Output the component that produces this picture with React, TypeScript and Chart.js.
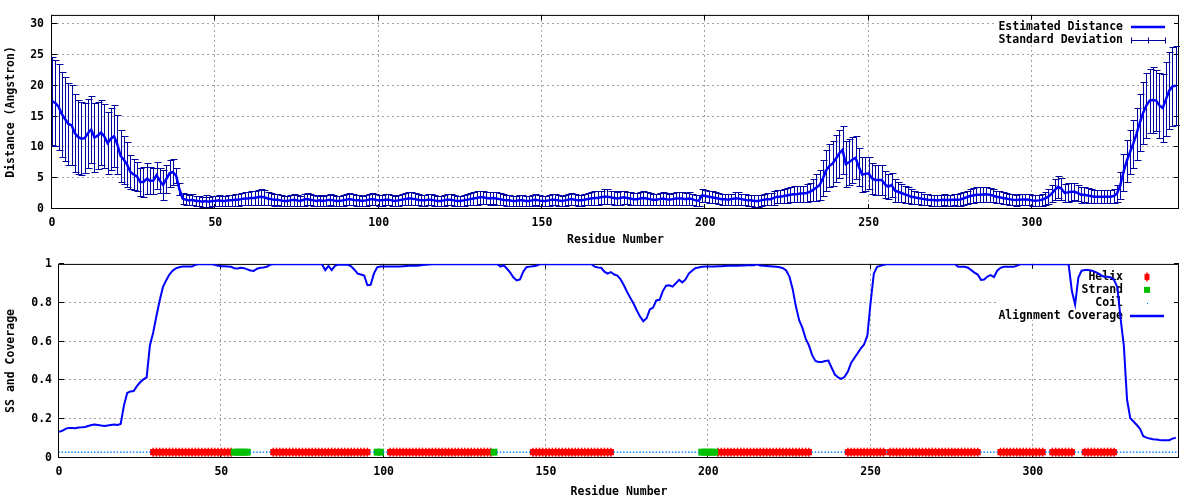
import React, { useEffect, useRef } from "react";
import { Chart, registerables } from "chart.js";

Chart.register(...registerables);

// ---------------- data ----------------
const X_TICKS = [0, 50, 100, 150, 200, 250, 300];
const DIST_TICKS = [0, 5, 10, 15, 20, 25, 30];
const COV_TICKS = [0, 0.2, 0.4, 0.6, 0.8, 1];
const X_MAX = 345;
const DIST_MAX = 31.5;
const SS_LEVEL = 0.03;

const X_TITLE = "Residue Number";
const TOP_Y_TITLE = "Distance (Angstron)";
const BOTTOM_Y_TITLE = "SS and Coverage";
const TOP_LEGEND = ["Estimated Distance", "Standard Deviation"];
const BOTTOM_LEGEND = ["Helix", "Strand", "Coil", "Alignment Coverage"];

// estimated distance per residue (index = residue number 0..344)
const DISTANCE = [
  17.5, 17.2, 16.6, 15.4, 14.6, 13.8, 13.6, 12.3, 11.7, 11.4,
  11.5, 12.3, 12.9, 11.6, 11.9, 12.4, 11.8, 10.7, 11.4, 11.8,
  10.5, 8.6, 8.0, 7.2, 6.0, 5.6, 5.3, 4.4, 4.4, 4.9,
  4.6, 4.6, 5.5, 4.6, 3.9, 4.9, 5.8, 6.0, 5.4, 3.2,
  1.7, 1.5, 1.4, 1.5, 1.3, 1.3, 1.2, 1.3, 1.2, 1.3,
  1.3, 1.4, 1.3, 1.3, 1.4, 1.4, 1.5, 1.5, 1.6, 1.7,
  1.7, 1.8, 1.8, 1.9, 2.0, 1.9, 1.7, 1.6, 1.5, 1.5,
  1.4, 1.3, 1.3, 1.4, 1.5, 1.4, 1.3, 1.5, 1.6, 1.5,
  1.4, 1.3, 1.4, 1.3, 1.4, 1.5, 1.4, 1.3, 1.3, 1.4,
  1.5, 1.6, 1.5, 1.4, 1.4, 1.3, 1.4, 1.5, 1.6, 1.5,
  1.4, 1.4, 1.5, 1.5, 1.4, 1.3, 1.4, 1.5, 1.6, 1.7,
  1.7, 1.6, 1.5, 1.4, 1.4, 1.5, 1.5, 1.4, 1.3, 1.3,
  1.4, 1.5, 1.5, 1.4, 1.3, 1.3, 1.4, 1.5, 1.6, 1.7,
  1.8, 1.9, 1.9, 1.8, 1.7, 1.8, 1.7, 1.6, 1.5, 1.4,
  1.4, 1.3, 1.3, 1.4, 1.4, 1.3, 1.3, 1.4, 1.5, 1.4,
  1.3, 1.3, 1.4, 1.5, 1.5, 1.4, 1.3, 1.4, 1.5, 1.6,
  1.5, 1.4, 1.4, 1.5, 1.6, 1.7, 1.8, 1.8, 1.9, 2.0,
  2.0, 1.9, 1.8, 1.7, 1.8, 1.9, 1.8, 1.7, 1.6, 1.6,
  1.7, 1.8, 1.7, 1.6, 1.5, 1.5, 1.6, 1.7, 1.6, 1.5,
  1.6, 1.7, 1.7, 1.7, 1.6, 1.7, 1.6, 1.4, 1.35, 2.2,
  2.1, 2.0, 1.9, 1.8, 1.7, 1.6, 1.6, 1.5, 1.6, 1.7,
  1.7, 1.6, 1.5, 1.4, 1.4, 1.3, 1.3, 1.4, 1.5, 1.6,
  1.6, 1.8, 2.0, 2.0, 2.1, 2.2, 2.3, 2.4, 2.4, 2.5,
  2.5, 2.6, 2.8, 3.1, 3.5, 3.9, 5.0, 6.3, 7.0, 7.4,
  8.2, 9.0, 9.6, 7.3, 7.6, 8.0, 8.3, 6.8, 5.6, 5.7,
  5.8, 5.0, 4.7, 4.7, 4.7, 4.0, 3.6, 3.9, 3.0, 2.8,
  2.6, 2.4, 2.2, 2.0, 1.9, 1.8, 1.7, 1.6, 1.5, 1.45,
  1.45, 1.4, 1.45, 1.5, 1.45, 1.45, 1.5, 1.5, 1.55, 1.7,
  1.9, 2.1, 2.2, 2.3, 2.3, 2.35, 2.4, 2.3, 2.2, 2.0,
  1.9, 1.8, 1.7, 1.6, 1.5, 1.45, 1.5, 1.55, 1.55, 1.5,
  1.4, 1.35, 1.4, 1.5, 1.7, 2.0, 2.5, 3.1, 3.6, 3.3,
  2.6, 2.7, 2.8, 2.8, 2.6, 2.3, 2.3, 2.2, 2.1, 2.0,
  2.0, 2.0, 2.0, 2.0, 2.0, 2.1, 2.5, 3.8, 6.0, 7.8,
  9.2, 10.6, 12.2, 14.0, 15.6, 16.8, 17.6, 17.7, 17.6, 16.8,
  16.4, 17.8, 19.2, 19.9, 20.0,
];

// standard deviation per residue
const STD_DEV = [
  7.1, 7.0, 7.0, 6.9, 6.8, 6.6, 6.5, 6.3, 6.0, 5.9,
  5.7, 5.6, 5.5, 5.6, 5.4, 5.3, 5.2, 5.0, 5.0, 5.0,
  4.8, 4.2, 3.9, 3.6, 2.8, 2.5, 2.4, 2.3, 2.4, 2.5,
  2.2, 2.1, 2.2, 2.0, 2.4, 2.3, 2.2, 2.1, 1.2, 1.0,
  0.9, 0.9, 0.8, 0.9, 0.8, 0.8, 0.8, 0.9, 0.8, 0.8,
  0.8, 0.9, 0.8, 0.8, 0.9, 0.9, 1.0, 1.0, 1.0, 1.1,
  1.1, 1.1, 1.2, 1.2, 1.3, 1.2, 1.1, 1.0, 1.0, 0.9,
  0.9, 0.8, 0.8, 0.9, 1.0, 0.9, 0.8, 1.0, 1.0, 0.9,
  0.9, 0.8, 0.9, 0.8, 0.9, 0.9, 0.9, 0.8, 0.8, 0.9,
  0.9, 1.0, 0.9, 0.9, 0.9, 0.8, 0.9, 0.9, 1.0, 0.9,
  0.9, 0.9, 0.9, 0.9, 0.9, 0.8, 0.9, 0.9, 1.0, 1.0,
  1.0, 1.0, 0.9, 0.9, 0.9, 0.9, 0.9, 0.9, 0.8, 0.8,
  0.9, 0.9, 0.9, 0.9, 0.8, 0.8, 0.9, 0.9, 1.0, 1.0,
  1.1, 1.1, 1.1, 1.0, 1.0, 1.0, 1.0, 1.0, 0.9, 0.9,
  0.9, 0.8, 0.8, 0.9, 0.9, 0.8, 0.8, 0.9, 0.9, 0.9,
  0.8, 0.8, 0.9, 0.9, 0.9, 0.9, 0.8, 0.9, 0.9, 1.0,
  0.9, 0.9, 0.9, 0.9, 1.0, 1.0, 1.1, 1.1, 1.1, 1.2,
  1.2, 1.1, 1.1, 1.0, 1.1, 1.1, 1.0, 1.0, 1.0, 1.0,
  1.0, 1.1, 1.0, 1.0, 0.9, 0.9, 1.0, 1.0, 1.0, 0.9,
  1.0, 1.0, 1.0, 1.0, 1.0, 1.0, 0.9, 0.9, 0.9, 1.0,
  1.0, 1.0, 1.0, 0.9, 0.9, 0.9, 0.9, 0.9, 0.9, 1.0,
  1.0, 0.9, 0.9, 0.9, 0.9, 0.9, 0.9, 0.9, 0.9, 1.0,
  1.0, 1.1, 1.1, 1.1, 1.2, 1.2, 1.2, 1.3, 1.3, 1.3,
  1.3, 1.4, 1.5, 1.8, 2.2, 2.5, 2.9, 3.3, 3.5, 3.6,
  3.8, 3.9, 3.9, 3.8, 3.7, 3.7, 3.5, 3.1, 2.9, 2.8,
  2.6, 2.5, 2.5, 2.5, 2.4, 2.2, 2.0, 2.0, 1.8, 1.6,
  1.5, 1.4, 1.3, 1.2, 1.1, 1.0, 1.0, 0.9, 0.9, 0.9,
  0.9, 0.9, 0.9, 0.9, 0.9, 0.9, 0.9, 1.0, 1.0, 1.1,
  1.1, 1.2, 1.2, 1.2, 1.2, 1.2, 1.2, 1.1, 1.1, 1.0,
  1.0, 1.0, 0.9, 0.9, 0.9, 0.9, 0.9, 0.9, 0.9, 0.9,
  0.9, 0.9, 0.9, 1.0, 1.0, 1.2, 1.4, 1.7, 1.8, 1.8,
  1.5, 1.5, 1.5, 1.4, 1.3, 1.3, 1.2, 1.2, 1.2, 1.1,
  1.1, 1.1, 1.1, 1.1, 1.1, 1.2, 1.4, 2.2, 3.0, 3.4,
  3.6, 3.9, 4.2, 4.6, 5.0, 5.3, 5.2, 5.3, 5.0, 5.2,
  5.5, 6.0, 6.2, 6.4, 6.4,
];

// alignment coverage per residue
const COVERAGE = [
  0.135, 0.14, 0.15, 0.155, 0.155, 0.153, 0.157, 0.158, 0.16, 0.165,
  0.17, 0.172, 0.17, 0.167, 0.165, 0.168, 0.17, 0.172, 0.17, 0.175,
  0.27, 0.335, 0.343, 0.345, 0.37, 0.39, 0.405, 0.415, 0.58, 0.645,
  0.73, 0.81, 0.88, 0.915, 0.945, 0.965, 0.977, 0.983, 0.986, 0.986,
  0.986, 0.986, 0.995, 0.998, 0.998, 0.998, 0.998, 0.998, 0.995, 0.99,
  0.988, 0.988, 0.987, 0.985, 0.978, 0.976, 0.98, 0.978, 0.972, 0.966,
  0.964, 0.975, 0.98, 0.982, 0.985, 0.995, 0.998, 0.998, 0.998, 0.998,
  0.998, 0.998, 0.998, 0.998, 0.998, 0.998, 0.998, 0.998, 0.998, 0.998,
  0.998, 0.998, 0.968, 0.99, 0.968, 0.99, 0.996, 0.996, 0.996, 0.995,
  0.988, 0.97, 0.95, 0.945, 0.94, 0.89, 0.892, 0.95, 0.982, 0.986,
  0.987, 0.987, 0.987, 0.987, 0.987, 0.987, 0.988, 0.989, 0.99, 0.99,
  0.99, 0.992, 0.994, 0.996, 0.997, 0.998, 0.998, 0.998, 0.998, 0.998,
  0.998, 0.998, 0.998, 0.998, 0.998, 0.998, 0.998, 0.998, 0.998, 0.998,
  0.998, 0.998, 0.998, 0.998, 0.998, 0.998, 0.986, 0.993, 0.975, 0.955,
  0.93, 0.915, 0.92, 0.96, 0.983, 0.986, 0.988, 0.99, 0.998, 0.998,
  0.998, 0.998, 0.998, 0.998, 0.998, 0.998, 0.998, 0.998, 0.998, 0.998,
  0.998, 0.998, 0.998, 0.998, 0.998, 0.986, 0.982, 0.98, 0.96, 0.95,
  0.958, 0.945, 0.94, 0.92, 0.89, 0.855, 0.825, 0.795, 0.76, 0.728,
  0.705, 0.72, 0.765, 0.775, 0.812, 0.815, 0.86, 0.888, 0.89, 0.883,
  0.9, 0.918, 0.905, 0.92, 0.95, 0.965, 0.978, 0.982, 0.985, 0.986,
  0.986, 0.987, 0.987, 0.988, 0.988, 0.989, 0.99, 0.99, 0.991, 0.991,
  0.992, 0.992, 0.993, 0.993, 0.993, 0.998, 0.992, 0.99, 0.989, 0.988,
  0.987, 0.985, 0.983, 0.978, 0.966, 0.935, 0.87, 0.78, 0.71, 0.67,
  0.615, 0.58, 0.53, 0.5, 0.495, 0.495, 0.5, 0.502, 0.465, 0.43,
  0.415, 0.408, 0.418, 0.445, 0.49, 0.515, 0.54, 0.565, 0.585, 0.63,
  0.8, 0.95, 0.985, 0.99, 0.995, 0.998, 0.998, 0.998, 0.998, 0.998,
  0.998, 0.998, 0.998, 0.998, 0.998, 0.998, 0.998, 0.998, 0.998, 0.998,
  0.998, 0.998, 0.998, 0.998, 0.998, 0.998, 0.998, 0.985, 0.985, 0.985,
  0.98, 0.968, 0.955, 0.945, 0.918, 0.92, 0.935, 0.942, 0.932, 0.965,
  0.98, 0.985, 0.985, 0.985, 0.985, 0.99, 0.998, 0.998, 0.998, 0.998,
  0.998, 0.998, 0.998, 0.998, 0.998, 0.998, 0.998, 0.998, 0.998, 0.998,
  0.998, 0.998, 0.86, 0.79, 0.93, 0.965, 0.968, 0.968, 0.966, 0.96,
  0.952, 0.94, 0.934, 0.934, 0.93, 0.918, 0.88, 0.72, 0.58, 0.3,
  0.205, 0.188, 0.17, 0.15, 0.112, 0.105, 0.1, 0.097, 0.095, 0.093,
  0.092, 0.092, 0.092, 0.1, 0.104,
];

// secondary structure runs: [type, first residue, last residue]
const SS_RUNS: [string, number, number][] = [
  ["C", 0, 28], ["H", 29, 53], ["E", 54, 58], ["C", 59, 65],
  ["H", 66, 95], ["C", 96, 97], ["E", 98, 99], ["C", 100, 101],
  ["H", 102, 133], ["E", 134, 134], ["C", 135, 145], ["H", 146, 170],
  ["C", 171, 197], ["E", 198, 202], ["H", 203, 231], ["C", 232, 242],
  ["H", 243, 254], ["C", 255, 255], ["H", 256, 283], ["C", 284, 289],
  ["H", 290, 303], ["C", 304, 305], ["H", 306, 312], ["C", 313, 315],
  ["H", 316, 325], ["C", 326, 344],
];

// ---------------- styles ----------------
const FONT_FAMILY = "'DejaVu Sans Mono', 'Liberation Mono', monospace";
const FONT = { family: FONT_FAMILY, size: 11.5, weight: "bold" as const };
const CSS_FONT = `bold 11.5px ${FONT_FAMILY}`;
const BLUE = "#0000ff";
const NAVY = "#0000a0";
const RED = "#ff0000";
const GREEN = "#00c000";
const COIL_BLUE = "#0080ff";
const GRID = "#a0a0a0";

function ssPoints(type: string) {
  const pts: { x: number; y: number }[] = [];
  for (const [t, a, b] of SS_RUNS) {
    if (t !== type) continue;
    for (let r = a; r <= b; r++) pts.push({ x: r, y: SS_LEVEL });
  }
  return pts;
}

type Box = { dx: number; h: number };

function framePlugin(key: Box, under: (c: any) => void) {
  return {
    id: "gnuplotFrame",
    beforeDatasetsDraw(chart: any) {
      const { ctx, chartArea: a } = chart;
      const xs = chart.scales.x;
      const ys = chart.scales.y;
      ctx.save();
      ctx.strokeStyle = GRID;
      ctx.lineWidth = 1;
      ctx.setLineDash([2, 3]);
      ctx.beginPath();
      for (const t of xs.ticks) {
        const p = Math.round(xs.getPixelForValue(t.value)) - 0.5;
        if (p < a.left + 2 || p > a.right - 2) continue;
        ctx.moveTo(p, a.top);
        ctx.lineTo(p, a.bottom);
      }
      for (const t of ys.ticks) {
        const p = Math.round(ys.getPixelForValue(t.value)) - 0.5;
        if (p < a.top + 2 || p > a.bottom - 2) continue;
        ctx.moveTo(a.left, p);
        ctx.lineTo(a.right, p);
      }
      ctx.stroke();
      ctx.setLineDash([]);
      ctx.fillStyle = "#ffffff";
      ctx.fillRect(a.right - key.dx, a.top, key.dx - 1, key.h);
      // border and inward ticks (drawn beneath the data, as gnuplot does)
      ctx.strokeStyle = "#000";
      ctx.lineWidth = 1;
      ctx.strokeRect(a.left - 0.5, a.top + 0.5, a.right - a.left, a.bottom - a.top - 1);
      ctx.beginPath();
      const T = 5;
      for (const t of xs.ticks) {
        const p = Math.round(xs.getPixelForValue(t.value)) - 0.5;
        ctx.moveTo(p, a.bottom);
        ctx.lineTo(p, a.bottom - T);
        ctx.moveTo(p, a.top);
        ctx.lineTo(p, a.top + T);
      }
      for (const t of ys.ticks) {
        const p = Math.round(ys.getPixelForValue(t.value)) - 0.5;
        ctx.moveTo(a.left, p);
        ctx.lineTo(a.left + T, p);
        ctx.moveTo(a.right, p);
        ctx.lineTo(a.right - T, p);
      }
      ctx.stroke();
      ctx.restore();
      ctx.save();
      under(chart);
      ctx.restore();
    },
  };
}

function xScale(height: number, titlePadBottom: number) {
  return {
    type: "linear",
    min: 0,
    max: X_MAX,
    bounds: "data",
    afterBuildTicks: (s: any) => {
      s.ticks = X_TICKS.map((value) => ({ value }));
    },
    afterFit: (s: any) => {
      s.height = height;
    },
    grid: { display: false, drawTicks: false },
    border: { display: false },
    ticks: { font: FONT, color: "#000", padding: 7, maxRotation: 0, autoSkip: false, callback: (v: any) => String(v) },
    title: { display: true, text: X_TITLE, font: FONT, color: "#000", padding: { top: 4, bottom: titlePadBottom } },
  };
}

function yScale(max: number, ticks: number[], width: number, pad: number, title: string) {
  return {
    type: "linear",
    min: 0,
    max,
    bounds: "data",
    afterBuildTicks: (s: any) => {
      s.ticks = ticks.map((value) => ({ value }));
    },
    afterFit: (s: any) => {
      s.width = width;
    },
    grid: { display: false, drawTicks: false },
    border: { display: false },
    ticks: { font: FONT, color: "#000", padding: pad, callback: (v: any) => String(v) },
    title: { display: true, text: title, font: FONT, color: "#000", padding: { top: 4, bottom: 4 } },
  };
}

function drawTopUnder(chart: any) {
  const { ctx, chartArea: a } = chart;
  const xs = chart.scales.x;
  const ys = chart.scales.y;
  // legend
  const tx = a.right - 56;
  const y1 = a.top + 12;
  const y2 = a.top + 25;
  ctx.font = CSS_FONT;
  ctx.fillStyle = "#000";
  ctx.textAlign = "right";
  ctx.textBaseline = "middle";
  ctx.fillText(TOP_LEGEND[0], tx, y1);
  ctx.fillText(TOP_LEGEND[1], tx, y2);
  const s0 = a.right - 48;
  const s1 = a.right - 14;
  ctx.strokeStyle = BLUE;
  ctx.lineWidth = 2.5;
  ctx.beginPath();
  ctx.moveTo(s0, y1);
  ctx.lineTo(s1, y1);
  ctx.stroke();
  ctx.strokeStyle = NAVY;
  ctx.lineWidth = 1;
  ctx.beginPath();
  const yy = Math.round(y2) + 0.5;
  ctx.moveTo(s0, yy);
  ctx.lineTo(s1, yy);
  for (const sx of [s0, (s0 + s1) / 2, s1]) {
    const p = Math.round(sx) + 0.5;
    ctx.moveTo(p, yy - 3);
    ctx.lineTo(p, yy + 3);
  }
  ctx.stroke();
  // error bars
  ctx.beginPath();
  ctx.rect(a.left - 1, a.top, a.right - a.left + 2, a.bottom - a.top);
  ctx.clip();
  ctx.strokeStyle = NAVY;
  ctx.lineWidth = 1;
  ctx.beginPath();
  DISTANCE.forEach((v, i) => {
    const px = Math.round(xs.getPixelForValue(i)) + 0.5;
    const hi = Math.round(ys.getPixelForValue(v + STD_DEV[i])) + 0.5;
    const lo = Math.round(ys.getPixelForValue(v - STD_DEV[i])) + 0.5;
    ctx.moveTo(px, lo);
    ctx.lineTo(px, hi);
    ctx.moveTo(px - 3, hi);
    ctx.lineTo(px + 4, hi);
    ctx.moveTo(px - 3, lo);
    ctx.lineTo(px + 4, lo);
  });
  ctx.stroke();
}

function drawBottomUnder(chart: any) {
  const { ctx, chartArea: a } = chart;
  const tx = a.right - 56;
  const rows = [a.top + 13, a.top + 26, a.top + 39, a.top + 52];
  ctx.font = CSS_FONT;
  ctx.fillStyle = "#000";
  ctx.textAlign = "right";
  ctx.textBaseline = "middle";
  BOTTOM_LEGEND.forEach((t, i) => ctx.fillText(t, tx, rows[i]));
  const mx = a.right - 32;
  // helix marker
  ctx.fillStyle = RED;
  ctx.fillRect(mx - 2.5, rows[0] - 3, 5, 6);
  ctx.strokeStyle = RED;
  ctx.lineWidth = 1.5;
  ctx.beginPath();
  ctx.moveTo(mx, rows[0] - 4.5);
  ctx.lineTo(mx, rows[0] + 4.5);
  ctx.stroke();
  // strand marker
  ctx.fillStyle = GREEN;
  ctx.fillRect(mx - 3, rows[1] - 3, 6, 6);
  // coil marker
  ctx.fillStyle = COIL_BLUE;
  ctx.fillRect(Math.round(mx), Math.round(rows[2]), 1, 1);
  // coverage sample
  ctx.strokeStyle = BLUE;
  ctx.lineWidth = 2.5;
  ctx.beginPath();
  ctx.moveTo(a.right - 49, rows[3]);
  ctx.lineTo(a.right - 15, rows[3]);
  ctx.stroke();
}

function topConfig(): any {
  return {
    type: "scatter",
    data: {
      datasets: [
        {
          label: TOP_LEGEND[0],
          data: DISTANCE.map((v, i) => ({ x: i, y: v })),
          showLine: true,
          borderColor: BLUE,
          backgroundColor: BLUE,
          borderWidth: 2.5,
          pointRadius: 0,
          tension: 0,
        },
      ],
    },
    options: {
      responsive: false,
      animation: false,
      events: [],
      layout: { padding: { top: 14, right: 21, left: 0, bottom: 0 } },
      plugins: { legend: { display: false }, tooltip: { enabled: false } },
      scales: {
        x: xScale(41, 3),
        y: yScale(DIST_MAX, DIST_TICKS, 52, 8, TOP_Y_TITLE),
      },
    },
    plugins: [framePlugin({ dx: 184, h: 30 }, drawTopUnder)],
  };
}

function bottomConfig(): any {
  return {
    type: "scatter",
    data: {
      datasets: [
        {
          label: BOTTOM_LEGEND[3],
          data: COVERAGE.map((v, i) => ({ x: i, y: v })),
          showLine: true,
          borderColor: BLUE,
          backgroundColor: BLUE,
          borderWidth: 2,
          pointRadius: 0,
          tension: 0,
        },
        {
          label: BOTTOM_LEGEND[2],
          data: ssPoints("C"),
          pointStyle: "rect",
          pointRadius: 1.0,
          pointBorderWidth: 0,
          backgroundColor: COIL_BLUE,
          borderColor: COIL_BLUE,
        },
        {
          label: BOTTOM_LEGEND[1],
          data: ssPoints("E"),
          pointStyle: "rect",
          pointRadius: 4.9,
          pointBorderWidth: 0,
          backgroundColor: GREEN,
          borderColor: GREEN,
        },
        {
          label: BOTTOM_LEGEND[0],
          data: ssPoints("H"),
          pointStyle: "line",
          pointRotation: 90,
          pointRadius: 4.5,
          pointBorderWidth: 1.5,
          backgroundColor: RED,
          borderColor: RED,
        },
        {
          label: BOTTOM_LEGEND[0],
          data: ssPoints("H"),
          pointStyle: "rect",
          pointRadius: 4.4,
          pointBorderWidth: 0,
          backgroundColor: RED,
          borderColor: RED,
        },
      ],
    },
    options: {
      responsive: false,
      animation: false,
      events: [],
      layout: { padding: { top: 12, right: 21, left: 0, bottom: 0 } },
      plugins: { legend: { display: false }, tooltip: { enabled: false } },
      scales: {
        x: xScale(42, 1),
        y: yScale(1, COV_TICKS, 59, 7, BOTTOM_Y_TITLE),
      },
    },
    plugins: [framePlugin({ dx: 181, h: 56 }, drawBottomUnder)],
  };
}

export default function App() {
  const topRef = useRef<HTMLCanvasElement>(null);
  const botRef = useRef<HTMLCanvasElement>(null);
  useEffect(() => {
    const top = new Chart(topRef.current as HTMLCanvasElement, topConfig());
    const bot = new Chart(botRef.current as HTMLCanvasElement, bottomConfig());
    return () => {
      top.destroy();
      bot.destroy();
    };
  }, []);
  return (
    <div style={{ position: "absolute", left: 0, top: 0, width: 1200, height: 500, background: "#ffffff" }}>
      <canvas ref={topRef} width={1200} height={250} style={{ display: "block", width: 1200, height: 250 }} />
      <canvas ref={botRef} width={1200} height={250} style={{ display: "block", width: 1200, height: 250 }} />
    </div>
  );
}
